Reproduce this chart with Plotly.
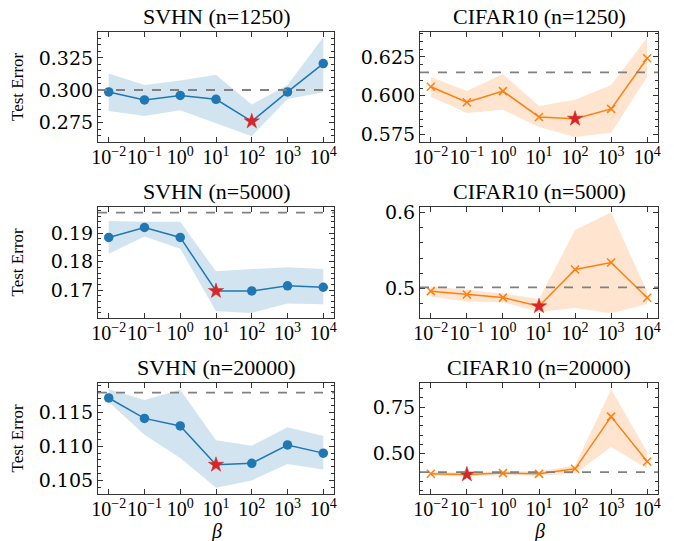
import numpy as np
import plotly.graph_objects as go

beta = [1e-2, 1e-1, 1e0, 1e1, 1e2, 1e3, 1e4]
beta_ticktext = ["10<sup>−2</sup>", "10<sup>−1</sup>", "10<sup>0</sup>", "10<sup>1</sup>",
                 "10<sup>2</sup>", "10<sup>3</sup>", "10<sup>4</sup>"]

titles = ["SVHN (n=1250)", "CIFAR10 (n=1250)", "SVHN (n=5000)", "CIFAR10 (n=5000)",
          "SVHN (n=20000)", "CIFAR10 (n=20000)"]

# SVHN n=1250
svhn1250_mean = [0.2987, 0.2925, 0.296, 0.293, 0.276, 0.2987, 0.3206]
svhn1250_hi = [0.313, 0.304, 0.3075, 0.312, 0.289, 0.304, 0.341]
svhn1250_lo = [0.284, 0.280, 0.2845, 0.2748, 0.2645, 0.2933, 0.2985]
svhn1250_base = 0.3002
# CIFAR10 n=1250
cifar1250_mean = [0.6058, 0.5959, 0.603, 0.5864, 0.5853, 0.5916, 0.6241]
cifar1250_hi = [0.612, 0.603, 0.614, 0.5935, 0.5974, 0.607, 0.6375]
cifar1250_lo = [0.5994, 0.589, 0.591, 0.580, 0.5735, 0.5763, 0.612]
cifar1250_base = 0.615
# SVHN n=5000
svhn5000_mean = [0.1885, 0.192, 0.1885, 0.1697, 0.1697, 0.1715, 0.171]
svhn5000_hi = [0.1943, 0.194, 0.194, 0.1766, 0.1774, 0.178, 0.1774]
svhn5000_lo = [0.1828, 0.1888, 0.1845, 0.1626, 0.162, 0.1653, 0.165]
svhn5000_base = 0.1972
# CIFAR10 n=5000
cifar5000_mean = [0.4965, 0.492, 0.488, 0.4767, 0.525, 0.534, 0.4877]
cifar5000_hi = [0.503, 0.498, 0.4934, 0.486, 0.5767, 0.600, 0.4956]
cifar5000_lo = [0.489, 0.483, 0.482, 0.469, 0.4744, 0.4674, 0.4797]
cifar5000_base = 0.5013
# SVHN n=20000
svhn20000_mean = [0.1171, 0.1141, 0.113, 0.1073, 0.1075, 0.1102, 0.109]
svhn20000_hi = [0.1184, 0.1168, 0.1183, 0.1109, 0.1101, 0.1128, 0.1115]
svhn20000_lo = [0.1165, 0.1117, 0.1083, 0.1039, 0.105, 0.1074, 0.1066]
svhn20000_base = 0.1179
# CIFAR10 n=20000
cifar20000_mean = [0.3913, 0.388, 0.395, 0.391, 0.418, 0.699, 0.458]
cifar20000_hi = [0.400, 0.400, 0.405, 0.405, 0.436, 0.847, 0.509]
cifar20000_lo = [0.382, 0.377, 0.385, 0.382, 0.391, 0.536, 0.418]
cifar20000_base = 0.400

panels = [
    (svhn1250_mean, svhn1250_hi, svhn1250_lo, svhn1250_base, "svhn", [0.260, 0.345], 0.025, 0.005, ".3f"),
    (cifar1250_mean, cifar1250_hi, cifar1250_lo, cifar1250_base, "cifar", [0.5703, 0.641], 0.025, 0.005, ".3f"),
    (svhn5000_mean, svhn5000_hi, svhn5000_lo, svhn5000_base, "svhn", [0.1602, 0.1992], 0.01, 0.002, ".2f"),
    (cifar5000_mean, cifar5000_hi, cifar5000_lo, cifar5000_base, "cifar", [0.4612, 0.607], 0.1, 0.02, ".1f"),
    (svhn20000_mean, svhn20000_hi, svhn20000_lo, svhn20000_base, "svhn", [0.103, 0.1193], 0.005, 0.001, ".3f"),
    (cifar20000_mean, cifar20000_hi, cifar20000_lo, cifar20000_base, "cifar", [0.2826, 0.880], 0.25, 0.05, ".2f"),
]

W, H = 674, 541
col_x = [(98, 334), (420, 658)]
row_y = [(32, 142), (207, 318), (383, 494)]

FONT = "Liberation Serif"
YFONT = "DejaVu Serif"
FRAME = "#333333"
BLUE = "#1f77b4"
ORANGE = "#ff7f0e"
RED = "#d62728"

fig = go.Figure()
layout = dict(width=W, height=H, margin=dict(l=0, r=0, t=0, b=0),
              paper_bgcolor="white", plot_bgcolor="white", showlegend=False,
              font=dict(family=FONT, color="black", size=20))
annotations = []
shapes = []

for i, (mean, hi, lo, base, kind, yr, dt, mdt, fmt) in enumerate(panels):
    r, c = divmod(i, 2)
    n = i + 1
    xa = "x" if n == 1 else f"x{n}"
    ya = "y" if n == 1 else f"y{n}"
    x0, x1 = col_x[c]
    yt, yb = row_y[r]
    color = BLUE if kind == "svhn" else ORANGE
    fill = "rgba(31,119,180,0.2)" if kind == "svhn" else "rgba(255,127,14,0.2)"
    sym = "circle" if kind == "svhn" else "x-thin"
    best = int(np.argmin(mean))

    fig.add_trace(go.Scatter(x=beta, y=hi, mode="lines", line=dict(width=0),
                             xaxis=xa, yaxis=ya, hoverinfo="skip"))
    fig.add_trace(go.Scatter(x=beta, y=lo, mode="lines", line=dict(width=0),
                             fill="tonexty", fillcolor=fill, xaxis=xa, yaxis=ya, hoverinfo="skip"))
    opac = [0 if k == best else 1 for k in range(len(beta))]
    if kind == "svhn":
        marker = dict(symbol=sym, size=9.5, color=color, opacity=opac)
    else:
        marker = dict(symbol=sym, size=8, color=color, opacity=opac,
                      line=dict(width=1.5, color=color))
    fig.add_trace(go.Scatter(x=beta, y=mean, mode="lines+markers",
                             line=dict(color=color, width=1.5), marker=marker,
                             xaxis=xa, yaxis=ya))
    fig.add_trace(go.Scatter(x=[beta[best]], y=[mean[best]], mode="markers",
                             marker=dict(symbol="star", size=11.5, color=RED,
                                         line=dict(width=0.5, color=RED)),
                             xaxis=xa, yaxis=ya))

    shapes.append(dict(type="line", xref=f"{xa} domain", yref=ya, x0=0, x1=1, y0=base, y1=base,
                       line=dict(color="#808080", width=1.8, dash="dash"), layer="above"))

    xkey = "xaxis" if n == 1 else f"xaxis{n}"
    ykey = "yaxis" if n == 1 else f"yaxis{n}"
    layout[xkey] = dict(type="log", range=[-2.3, 4.3], domain=[x0 / W, x1 / W],
                        anchor=ya, tickvals=beta, ticktext=beta_ticktext, tickangle=0,
                        ticks="inside", ticklen=5, tickcolor=FRAME, tickwidth=1,
                        ticklabelstandoff=-3,
                        showline=True, linecolor=FRAME, linewidth=1.2, mirror="allticks",
                        showgrid=False, zeroline=False, automargin=False,
                        tickfont=dict(size=20, family=FONT))
    layout[ykey] = dict(range=yr, domain=[1 - yb / H, 1 - yt / H], anchor=xa,
                        dtick=dt, tick0=0, tickformat=fmt,
                        ticks="inside", ticklen=5, tickcolor=FRAME, tickwidth=1,
                        minor=dict(ticks="inside", ticklen=3, dtick=mdt, tickcolor=FRAME, tickwidth=1),
                        showline=True, linecolor=FRAME, linewidth=1.2, mirror="allticks",
                        showgrid=False, zeroline=False, automargin=False,
                        tickfont=dict(size=19, family=YFONT))

    annotations.append(dict(text=titles[i], xref=f"{xa} domain", yref=f"{ya} domain",
                            x=0.5, y=1, xanchor="center", yanchor="bottom", yshift=1,
                            showarrow=False, font=dict(size=22, family=FONT)))
    if c == 0:
        annotations.append(dict(text="Test Error", xref="paper", yref=f"{ya} domain",
                                x=17 / W, y=0.5, xanchor="center", yanchor="middle",
                                textangle=-90, showarrow=False, font=dict(size=17, family=FONT)))
    if r == 2:
        annotations.append(dict(text="<i>β</i>", xref=f"{xa} domain", yref="paper",
                                x=0.5, y=1 - 531 / H, xanchor="center", yanchor="middle",
                                showarrow=False, font=dict(size=20, family=FONT)))

layout["annotations"] = annotations
layout["shapes"] = shapes
fig.update_layout(**layout)
fig.write_html("out.html", config={"displayModeBar": False},
               post_script="document.body.style.margin='0';document.body.style.overflow='hidden';")
